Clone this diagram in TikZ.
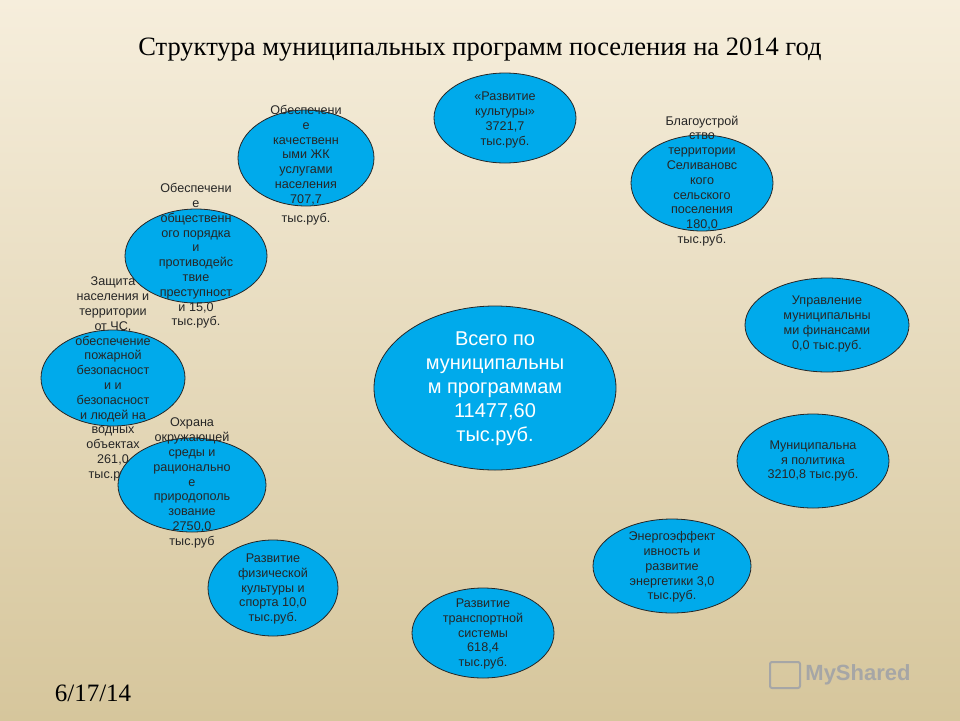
\documentclass[tikz,border=0pt]{standalone}
\usepackage{fontspec}
\setmainfont{Liberation Serif}
\newfontfamily\arialf{Liberation Sans}
\begin{document}
\begin{tikzpicture}[x=1pt,y=-1pt,
  bub/.style={draw=black!85,line width=0.8pt},
  lbl/.style={align=center,font=\arialf\fontsize{12.6}{14.8}\selectfont,text=black!85,inner sep=0},
  big/.style={align=center,font=\arialf\fontsize{20}{24}\selectfont,text=white,inner sep=0}]
\definecolor{bubc}{RGB}{0,170,235}
\tikzset{bub/.append style={fill=bubc}}
\useasboundingbox (0,0) rectangle (960,720);
\shade[top color={rgb,255:red,246;green,238;blue,220},bottom color={rgb,255:red,214;green,198;blue,156}] (0,0) rectangle (960,720);
\node[font=\fontsize{26.5}{30}\selectfont] (title) at (480,50) {Структура муниципальных программ поселения на 2014 год};
\node[font=\fontsize{25}{29}\selectfont] (date) at (93,693) {6/17/14};
\node[font=\arialf\bfseries\fontsize{22}{26}\selectfont,text=gray!70] (logo) at (858,675) {MyShared};
\draw[gray!70,line width=2pt,rounded corners=2pt] (770,662) rectangle (800,688);
\draw[bub] (306,158) ellipse (68 and 48);
\node[lbl] (zhk) at (306,165) {Обеспечени\\е\\качественн\\ыми ЖК\\услугами\\населения\\707,7\\[4pt]тыс.руб.};
\draw[bub] (505,118) ellipse (71 and 45);
\node[lbl] (kult) at (505,120) {«Развитие\\культуры»\\3721,7\\тыс.руб.};
\draw[bub] (702,183) ellipse (71 and 48);
\node[lbl] (blag) at (702,181) {Благоустрой\\ство\\территории\\Селивановс\\кого\\сельского\\поселения\\180,0\\тыс.руб.};
\draw[bub] (113,378) ellipse (72 and 48);
\node[lbl] (zash) at (113,379) {Защита\\населения и\\территории\\от ЧС,\\обеспечение\\пожарной\\безопасност\\и и\\безопасност\\и людей на\\водных\\объектах\\261,0\\тыс.руб.};
\draw[bub] (196,256) ellipse (71 and 47);
\node[lbl] (por) at (196,256) {Обеспечени\\е\\общественн\\ого порядка\\и\\противодейс\\твие\\преступност\\и 15,0\\тыс.руб.};
\draw[bub] (827,325) ellipse (82 and 47);
\node[lbl] (upr) at (827,324) {Управление\\муниципальны\\ми финансами\\0,0 тыс.руб.};
\draw[bub] (495,388) ellipse (121 and 82);
\node[big] (tot) at (495,389) {Всего по\\муниципальны\\м программам\\11477,60\\тыс.руб.};
\draw[bub] (813,461) ellipse (76 and 47);
\node[lbl] (mp) at (813,461) {Муниципальна\\я политика\\3210,8 тыс.руб.};
\draw[bub] (192,485) ellipse (74 and 47);
\node[lbl] (ohr) at (192,483) {Охрана\\окружающей\\среды и\\рационально\\е\\природополь\\зование\\2750,0\\тыс.руб};
\draw[bub] (672,566) ellipse (79 and 47);
\node[lbl] (en) at (672,567) {Энергоэффект\\ивность и\\развитие\\энергетики 3,0\\тыс.руб.};
\draw[bub] (273,588) ellipse (65 and 48);
\node[lbl] (fiz) at (273,589) {Развитие\\физической\\культуры и\\спорта 10,0\\тыс.руб.};
\draw[bub] (483,633) ellipse (71 and 45);
\node[lbl] (tr) at (483,634) {Развитие\\транспортной\\системы\\618,4\\тыс.руб.};
\end{tikzpicture}
\end{document}
